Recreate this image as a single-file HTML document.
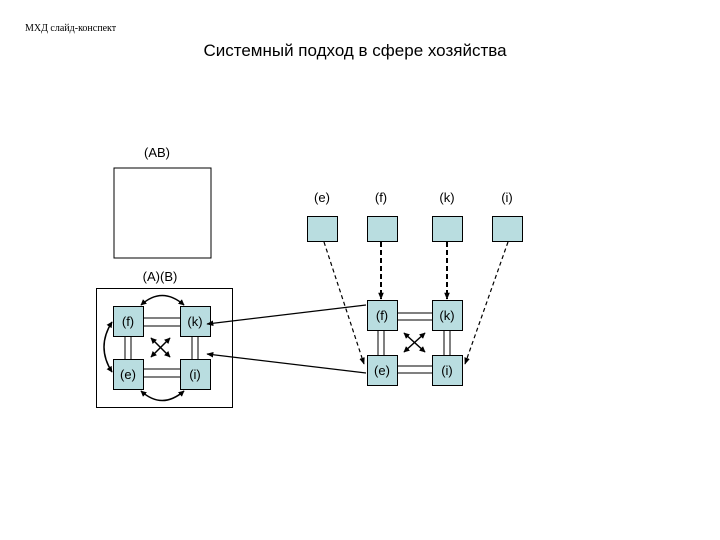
<!DOCTYPE html>
<html><head><meta charset="utf-8"><style>
html,body{margin:0;padding:0;background:#fff;}
svg{display:block;}
</style></head><body>
<svg width="720" height="540" viewBox="0 0 720 540" xmlns="http://www.w3.org/2000/svg" font-family="Liberation Sans, DejaVu Sans, sans-serif">
<defs>
<marker id="ah" viewBox="0 0 10 10" refX="9" refY="5" markerUnits="userSpaceOnUse" markerWidth="7" markerHeight="7" orient="auto-start-reverse"><path d="M0,1 L10,5 L0,9 z" fill="#000"/></marker>
<marker id="sm" viewBox="0 0 10 10" refX="9" refY="5" markerUnits="userSpaceOnUse" markerWidth="6" markerHeight="6" orient="auto-start-reverse"><path d="M0,0 L10,5 L0,10 z" fill="#000"/></marker>
</defs>
<text x="25" y="31" font-family="Liberation Serif, serif" font-size="10">МХД слайд-конспект</text>
<text x="355" y="56" font-size="17" text-anchor="middle">Системный подход в сфере хозяйства</text>

<text x="157" y="157" font-size="13" text-anchor="middle">(AB)</text>
<rect x="114" y="168" width="97" height="90" fill="#fff" stroke="#000" stroke-width="1"/>
<text x="160" y="281" font-size="13" text-anchor="middle">(A)(B)</text>

<!-- left cluster -->
<rect x="96.5" y="288.5" width="136" height="119" fill="none" stroke="#000"/>
<g stroke="#000" stroke-width="1">
<line x1="143" y1="318" x2="180" y2="318"/><line x1="143" y1="326" x2="180" y2="326"/>
<line x1="143" y1="369" x2="180" y2="369"/><line x1="143" y1="377" x2="180" y2="377"/>
<line x1="125" y1="336" x2="125" y2="359"/><line x1="131" y1="336" x2="131" y2="359"/>
<line x1="192" y1="336" x2="192" y2="359"/><line x1="198" y1="336" x2="198" y2="359"/>
</g>
<g fill="#b9dde0" stroke="#000">
<rect x="113.5" y="306.5" width="30" height="30"/><rect x="180.5" y="306.5" width="30" height="30"/>
<rect x="113.5" y="359.5" width="30" height="30"/><rect x="180.5" y="359.5" width="30" height="30"/>
</g>
<g font-size="13" text-anchor="middle">
<text x="128" y="326">(f)</text><text x="195" y="326">(k)</text>
<text x="128" y="379">(e)</text><text x="195" y="379">(i)</text>
</g>
<g stroke="#000" stroke-width="1.5" fill="none" marker-start="url(#sm)" marker-end="url(#sm)">
<line x1="151" y1="338" x2="170" y2="357"/><line x1="170" y1="338" x2="151" y2="357"/>
<path d="M141,305 Q162,286 184,305"/>
<path d="M141,391 Q162,410 184,391"/>
<path d="M112,322 Q96,347 112,372"/>
</g>
<g stroke="#000" stroke-width="1.2" fill="none" marker-end="url(#ah)">
<line x1="366" y1="305" x2="207" y2="324"/>
<line x1="366" y1="373" x2="207" y2="354"/>
</g>

<!-- right top -->
<g font-size="13" text-anchor="middle">
<text x="322" y="202">(e)</text><text x="381" y="202">(f)</text><text x="447" y="202">(k)</text><text x="507" y="202">(i)</text>
</g>
<g fill="#b9dde0" stroke="#000">
<rect x="307.5" y="216.5" width="30" height="25"/><rect x="367.5" y="216.5" width="30" height="25"/>
<rect x="432.5" y="216.5" width="30" height="25"/><rect x="492.5" y="216.5" width="30" height="25"/>
</g>
<g stroke="#000" stroke-width="1.2" fill="none" stroke-dasharray="4,3" marker-end="url(#ah)">
<line x1="324" y1="242" x2="364" y2="364"/>
<line x1="508" y1="242" x2="465" y2="364"/>
</g>
<g stroke="#000" stroke-width="2" fill="none" stroke-dasharray="5,3" marker-end="url(#ah)">
<line x1="381" y1="242" x2="381" y2="299"/>
<line x1="447" y1="242" x2="447" y2="299"/>
</g>

<!-- right cluster -->
<g stroke="#000" stroke-width="1">
<line x1="397" y1="313" x2="432" y2="313"/><line x1="397" y1="320" x2="432" y2="320"/>
<line x1="397" y1="366" x2="432" y2="366"/><line x1="397" y1="373" x2="432" y2="373"/>
<line x1="378" y1="331" x2="378" y2="355"/><line x1="384" y1="331" x2="384" y2="355"/>
<line x1="444" y1="331" x2="444" y2="355"/><line x1="450" y1="331" x2="450" y2="355"/>
</g>
<g fill="#b9dde0" stroke="#000">
<rect x="367.5" y="300.5" width="30" height="30"/><rect x="432.5" y="300.5" width="30" height="30"/>
<rect x="367.5" y="355.5" width="30" height="30"/><rect x="432.5" y="355.5" width="30" height="30"/>
</g>
<g font-size="13" text-anchor="middle">
<text x="382" y="320">(f)</text><text x="447" y="320">(k)</text>
<text x="382" y="375">(e)</text><text x="447" y="375">(i)</text>
</g>
<g stroke="#000" stroke-width="1.5" fill="none" marker-start="url(#sm)" marker-end="url(#sm)">
<line x1="404" y1="333" x2="425" y2="352"/><line x1="425" y1="333" x2="404" y2="352"/>
</g>
</svg>
</body></html>
